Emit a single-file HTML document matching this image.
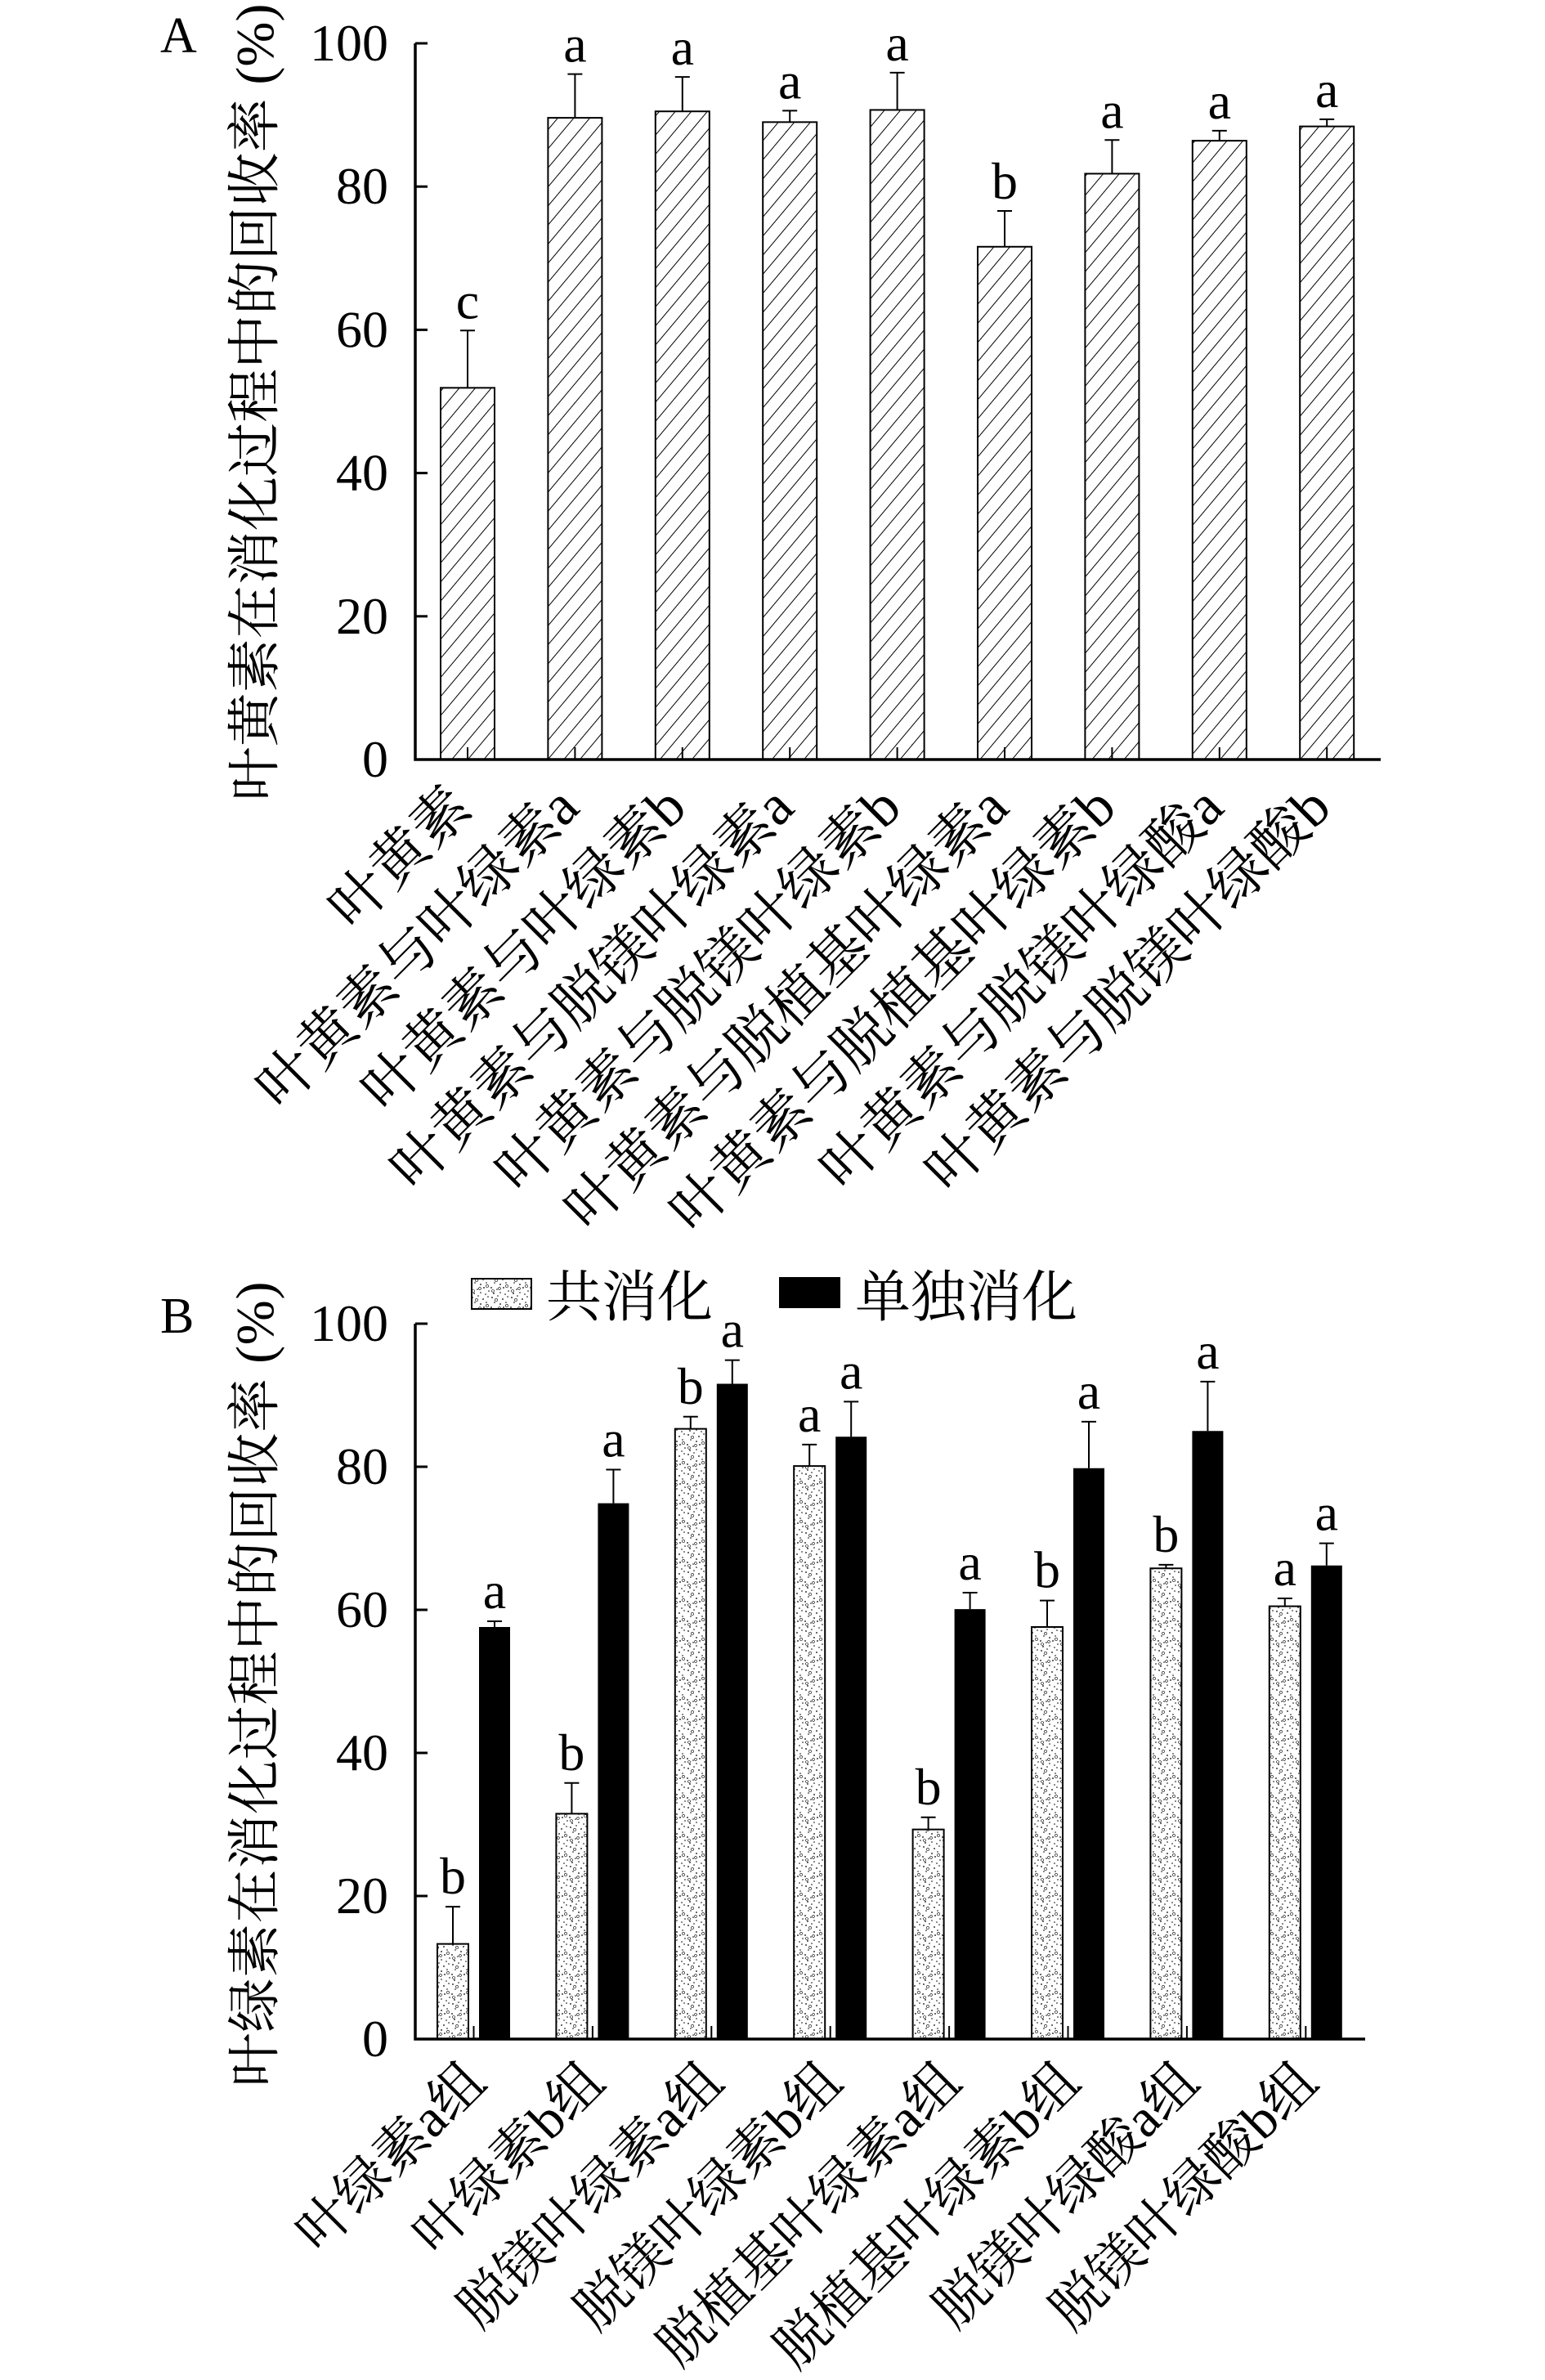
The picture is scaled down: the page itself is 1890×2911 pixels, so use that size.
<!DOCTYPE html>
<html><head><meta charset="utf-8">
<style>
html,body{margin:0;padding:0;background:#fff;}
svg{display:block;}
.num{font-family:"Liberation Serif",serif;fill:#000;}
.cjk{font-family:"Liberation Serif","Noto Serif CJK SC",serif;fill:#000;}
</style></head>
<body>
<svg id="fig" width="1890" height="2911" viewBox="0 0 1890 2911" xmlns="http://www.w3.org/2000/svg">
<defs>
<pattern id="hatch" patternUnits="userSpaceOnUse" width="15" height="15" patternTransform="rotate(40)">
<rect width="15" height="15" fill="#fff"/>
<line x1="0" y1="0" x2="0" y2="15" stroke="#000" stroke-width="2"/>
</pattern>
<pattern id="stipple" patternUnits="userSpaceOnUse" width="24" height="24">
<rect width="24" height="24" fill="#fff"/>
<g fill="#000">
<circle cx="2" cy="3" r="0.9"/><circle cx="9" cy="1" r="0.8"/><circle cx="15" cy="5" r="0.9"/><circle cx="21" cy="2" r="0.8"/>
<circle cx="5" cy="9" r="0.8"/><circle cx="12" cy="11" r="0.9"/><circle cx="19" cy="9" r="0.8"/><circle cx="1" cy="15" r="0.9"/>
<circle cx="8" cy="17" r="0.8"/><circle cx="16" cy="15" r="0.9"/><circle cx="22" cy="19" r="0.8"/><circle cx="4" cy="22" r="0.9"/>
<circle cx="12" cy="21" r="0.8"/><circle cx="18" cy="23" r="0.8"/>
</g>
<g fill="none" stroke="#000" stroke-width="0.6">
<circle cx="7" cy="6" r="1.6"/><circle cx="20" cy="13" r="1.6"/><circle cx="11" cy="16" r="1.4"/><circle cx="3" cy="19" r="1.5"/>
</g>
</pattern>
</defs>
<g id="chartA"></g>
<g id="chartB"></g>
</svg>
<script>
// ---- Chart A data ----
const catsA = ["叶黄素","叶黄素与叶绿素a","叶黄素与叶绿素b","叶黄素与脱镁叶绿素a","叶黄素与脱镁叶绿素b","叶黄素与脱植基叶绿素a","叶黄素与脱植基叶绿素b","叶黄素与脱镁叶绿酸a","叶黄素与脱镁叶绿酸b"];
const valsA = [51.9, 89.6, 90.5, 89.0, 90.7, 71.6, 81.8, 86.4, 88.4];
const errA = [8.0, 6.1, 4.8, 1.6, 5.2, 5.0, 4.7, 1.4, 1.0];
const sigA = ["c","a","a","a","a","b","a","a","a"];
const ticksA = [0, 20, 40, 60, 80, 100];
// ---- Chart B data ----
const catsB = ["叶绿素a组","叶绿素b组","脱镁叶绿素a组","脱镁叶绿素b组","脱植基叶绿素a组","脱植基叶绿素b组","脱镁叶绿酸a组","脱镁叶绿酸b组"];
const coVals = [13.3, 31.5, 85.3, 80.1, 29.3, 57.6, 65.8, 60.5];
const coErr = [5.2, 4.3, 1.7, 3.0, 1.7, 3.7, 0.5, 1.1];
const coSig = ["b","b","b","a","b","b","b","a"];
const aloneVals = [57.6, 74.9, 91.6, 84.2, 60.1, 79.8, 85.0, 66.2];
const aloneErr = [0.8, 4.7, 3.3, 4.9, 2.3, 6.5, 6.9, 3.1];
const aloneSig = ["a","a","a","a","a","a","a","a"];
const ticksB = [0, 20, 40, 60, 80, 100];
const legendB = ["共消化","单独消化"];

const NS = "http://www.w3.org/2000/svg";
function mk(tag, attrs, parent){ const e=document.createElementNS(NS,tag); for(const k in attrs) e.setAttribute(k,attrs[k]); parent.appendChild(e); return e; }

// ===== Chart A =====
(function(){
  const g = document.getElementById('chartA');
  const axX = 508, y0 = 929, y100 = 53, xEnd = 1689;
  const yA = v => y0 - (y0 - y100) * v / 100;
  const xA = i => 572 + 131.4 * i;
  const bw = 66;
  let t = mk('text',{x:196,y:64,'font-size':62,class:'num'},g); t.textContent='A';
  
  
  t = mk('text',{x:0,y:0,'font-size':66,class:'cjk','text-anchor':'middle',transform:'translate(334,492) rotate(-90)',textLength:975,lengthAdjust:'spacing'},g);
  t.textContent='叶黄素在消化过程中的回收率 (%)';
  
  
  ticksA.forEach(v=>{
    const y=yA(v);
    const l=mk('line',{x1:axX,y1:y,x2:axX+15,y2:y,stroke:'#000','stroke-width':3},g);
    
    
    const tt=mk('text',{x:475,y:y+21,'font-size':64,class:'num','text-anchor':'end'},g);
    tt.textContent=String(v);
    
    
  });
  catsA.forEach((c,i)=>{
    const cx=xA(i), top=yA(valsA[i]), et=yA(valsA[i]+errA[i]);
    const r=mk('rect',{x:cx-bw/2,y:top,width:bw,height:y0-top,fill:'url(#hatch)',stroke:'#000','stroke-width':2},g);
    
    
    const e1=mk('line',{x1:cx,y1:top,x2:cx,y2:et,stroke:'#000','stroke-width':2},g);
    
    
    const e2=mk('line',{x1:cx-9,y1:et,x2:cx+9,y2:et,stroke:'#000','stroke-width':2},g);
    
    
    const s=mk('text',{x:cx,y:et-15,'font-size':64,class:'num','text-anchor':'middle'},g);
    s.textContent=sigA[i];
    
    
    const tk=mk('line',{x1:cx,y1:y0,x2:cx,y2:y0-15,stroke:'#000','stroke-width':2},g);
    
    
    const lb=mk('text',{x:0,y:0,'font-size':70,class:'cjk','text-anchor':'end',transform:`translate(${cx+8},${y0+62}) rotate(-45)`},g);
    lb.textContent=c;
    
    
  });
  const ax=mk('path',{d:`M${axX},${y100} V${y0} H${xEnd}`,fill:'none',stroke:'#000','stroke-width':3.5},g);
  
  
})();

// ===== Chart B =====
(function(){
  const g = document.getElementById('chartB');
  const axX = 508, y0 = 2494, y100 = 1619, xEnd = 1670;
  const yB = v => y0 - (y0 - y100) * v / 100;
  const xAlone = i => 605 + 145.4 * i;
  const xCo = i => xAlone(i) - 51;
  const bw = 38;
  let t = mk('text',{x:196,y:1630,'font-size':62,class:'num'},g); t.textContent='B';
  
  
  t = mk('text',{x:0,y:0,'font-size':66,class:'cjk','text-anchor':'middle',transform:'translate(334,2060) rotate(-90)',textLength:985,lengthAdjust:'spacing'},g);
  t.textContent='叶绿素在消化过程中的回收率 (%)';
  
  
  ticksB.forEach(v=>{
    const y=yB(v);
    const l=mk('line',{x1:axX,y1:y,x2:axX+15,y2:y,stroke:'#000','stroke-width':3},g);
    
    
    const tt=mk('text',{x:475,y:y+21,'font-size':64,class:'num','text-anchor':'end'},g);
    tt.textContent=String(v);
    
    
  });
  const ls=mk('rect',{x:577,y:1564,width:73,height:37,fill:'url(#stipple)',stroke:'#000','stroke-width':2},g);
  
  
  let lt=mk('text',{x:668,y:1610,'font-size':68,class:'cjk'},g); lt.textContent=legendB[0];
  
  
  const ls2=mk('rect',{x:953,y:1562,width:75,height:38,fill:'#000'},g);
  
  
  lt=mk('text',{x:1046,y:1610,'font-size':68,class:'cjk'},g); lt.textContent=legendB[1];
  
  

  catsB.forEach((c,i)=>{
    let cx=xCo(i), top=yB(coVals[i]), et=yB(coVals[i]+coErr[i]);
    let r=mk('rect',{x:cx-bw/2,y:top,width:bw,height:y0-top,fill:'url(#stipple)',stroke:'#000','stroke-width':2},g);
    
    
    let e1=mk('line',{x1:cx,y1:top,x2:cx,y2:et,stroke:'#000','stroke-width':2},g);
    
    
    let e2=mk('line',{x1:cx-9,y1:et,x2:cx+9,y2:et,stroke:'#000','stroke-width':2},g);
    
    
    let s=mk('text',{x:cx,y:et-16,'font-size':64,class:'num','text-anchor':'middle'},g);
    s.textContent=coSig[i];
    
    
    cx=xAlone(i); top=yB(aloneVals[i]); et=yB(aloneVals[i]+aloneErr[i]);
    r=mk('rect',{x:cx-bw/2,y:top,width:bw,height:y0-top,fill:'#000'},g);
    
    
    e1=mk('line',{x1:cx,y1:top,x2:cx,y2:et,stroke:'#000','stroke-width':2},g);
    
    
    e2=mk('line',{x1:cx-9,y1:et,x2:cx+9,y2:et,stroke:'#000','stroke-width':2},g);
    
    
    s=mk('text',{x:cx,y:et-16,'font-size':64,class:'num','text-anchor':'middle'},g);
    s.textContent=aloneSig[i];
    
    
    const gc=(xCo(i)+xAlone(i))/2;
    const tk=mk('line',{x1:gc,y1:y0,x2:gc,y2:y0-16,stroke:'#000','stroke-width':2},g);
    
    
    const lb=mk('text',{x:0,y:0,'font-size':66,class:'cjk','text-anchor':'end',transform:`translate(${gc+18},${y0+56}) rotate(-45)`},g);
    lb.textContent=c;
    
    
  });
  const ax=mk('path',{d:`M${axX},${y100} V${y0} H${xEnd}`,fill:'none',stroke:'#000','stroke-width':3.5},g);
  
  
})();
</script>
</body></html>
